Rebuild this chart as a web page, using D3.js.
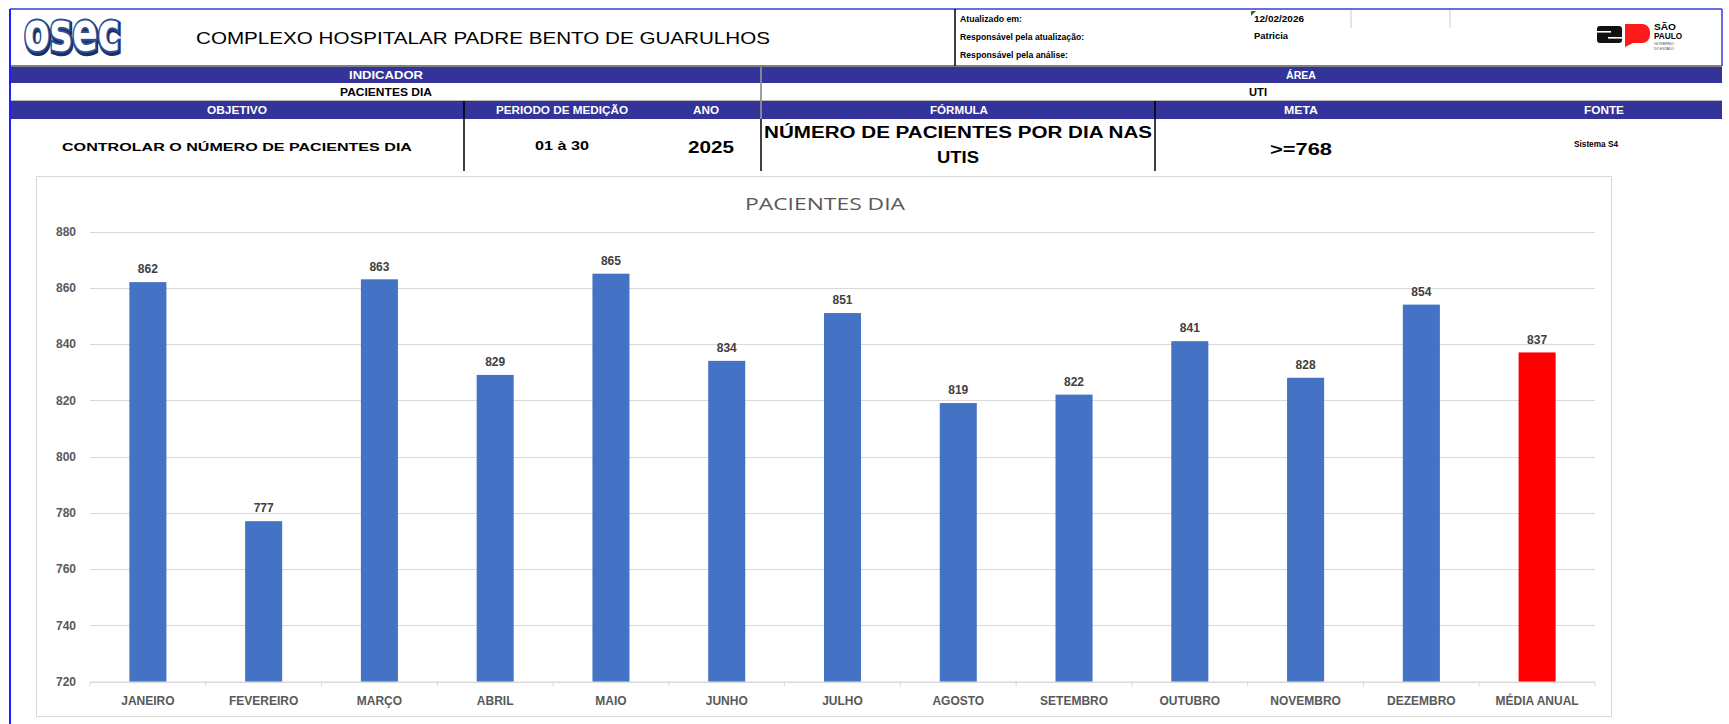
<!DOCTYPE html>
<html lang="pt-BR">
<head>
<meta charset="UTF-8">
<title>Pacientes Dia</title>
<style>
  html, body { margin: 0; padding: 0; background: #fff; overflow: hidden; }
  svg { display: block; font-family: "Liberation Sans", Arial, sans-serif; }
</style>
</head>
<body>
<div id="chart"></div>
<script src="https://cdn.jsdelivr.net/npm/d3@7"></script>
<script>
// dados do gráfico
const meses = ['JANEIRO', 'FEVEREIRO', 'MARÇO', 'ABRIL', 'MAIO', 'JUNHO', 'JULHO',
  'AGOSTO', 'SETEMBRO', 'OUTUBRO', 'NOVEMBRO', 'DEZEMBRO', 'MÉDIA ANUAL']
const pacientes = [862, 777, 863, 829, 865, 834, 851, 819, 822, 841, 828, 854, 837]
const yTicks = [720, 740, 760, 780, 800, 820, 840, 860, 880]
const destaque = 'MÉDIA ANUAL'

const width = 1729
const height = 724
const azul = '#333399'

const svg = d3.select('#chart').append('svg')
  .attr('width', width)
  .attr('height', height)

// ---------- cabeçalho ----------
const head = svg.append('g')

function txt(g, x, y, s, o = {}) {
  const t = g.append('text')
    .attr('x', x).attr('y', y)
    .attr('dy', '0.35em')
    .attr('text-anchor', o.anchor || 'middle')
    .attr('font-size', o.size || 10)
    .attr('font-weight', o.weight || 'bold')
    .attr('fill', o.fill || '#000')
    .text(s)
  if (o.family) t.attr('font-family', o.family)
  if (o.len) t.attr('textLength', o.len).attr('lengthAdjust', 'spacingAndGlyphs')
  return t
}

// faixas azuis
head.append('rect').attr('x', 10).attr('y', 67).attr('width', 1712).attr('height', 16).attr('fill', azul)
head.append('rect').attr('x', 10).attr('y', 101).attr('width', 1712).attr('height', 18).attr('fill', azul)
head.append('line').attr('x1', 10).attr('x2', 1722).attr('y1', 66).attr('y2', 66).attr('stroke', '#000')
head.append('line').attr('x1', 10).attr('x2', 1722).attr('y1', 100.5).attr('y2', 100.5).attr('stroke', '#bbb')

// bordas externas
head.append('line').attr('x1', 10).attr('x2', 1722).attr('y1', 9).attr('y2', 9).attr('stroke', '#3b3bd6').attr('stroke-width', 1.5)
head.append('line').attr('x1', 10).attr('x2', 10).attr('y1', 9).attr('y2', height).attr('stroke', '#2020ff').attr('stroke-width', 2)
head.append('line').attr('x1', 1722).attr('x2', 1722).attr('y1', 9).attr('y2', 66).attr('stroke', '#3b3bd6').attr('stroke-width', 1.5)

// divisórias
head.append('line').attr('x1', 955).attr('x2', 955).attr('y1', 9).attr('y2', 66).attr('stroke', '#000').attr('stroke-width', 1.5)
head.append('line').attr('x1', 1351).attr('x2', 1351).attr('y1', 10).attr('y2', 28).attr('stroke', '#ccc')
head.append('line').attr('x1', 1450).attr('x2', 1450).attr('y1', 10).attr('y2', 28).attr('stroke', '#ccc')
head.append('line').attr('x1', 761).attr('x2', 761).attr('y1', 67).attr('y2', 171).attr('stroke', '#000').attr('stroke-width', 1.5)
head.append('line').attr('x1', 761).attr('x2', 761).attr('y1', 67).attr('y2', 119).attr('stroke', '#fff').attr('stroke-width', 1)
head.append('line').attr('x1', 464).attr('x2', 464).attr('y1', 101).attr('y2', 171).attr('stroke', '#000').attr('stroke-width', 1.5)
head.append('line').attr('x1', 1155).attr('x2', 1155).attr('y1', 101).attr('y2', 171).attr('stroke', '#000').attr('stroke-width', 1.5)

// logo osec (sombra + contorno)
const osec = head.append('g')
  .attr('font-size', 54).attr('font-weight', 'bold')
  .attr('font-family', '"DejaVu Sans", sans-serif')
osec.append('text')
  .attr('x', 25).attr('y', 52)
  .attr('fill', '#1b2f63').attr('stroke', '#1b2f63').attr('stroke-width', 6)
  .attr('textLength', 96).attr('lengthAdjust', 'spacingAndGlyphs')
  .text('osec')
osec.append('text')
  .attr('x', 24).attr('y', 50)
  .attr('fill', '#fff').attr('stroke', '#2d4f98').attr('stroke-width', 4)
  .attr('paint-order', 'stroke')
  .attr('textLength', 96).attr('lengthAdjust', 'spacingAndGlyphs')
  .text('osec')

txt(head, 196, 38, 'COMPLEXO HOSPITALAR PADRE BENTO DE GUARULHOS', { anchor: 'start', size: 17, weight: 'normal', len: 574 })

txt(head, 960, 19, 'Atualizado em:', { anchor: 'start', size: 8.5, len: 62 })
txt(head, 960, 37, 'Responsável pela atualização:', { anchor: 'start', size: 8.5, len: 124 })
txt(head, 960, 55, 'Responsável pela análise:', { anchor: 'start', size: 8.5, len: 108 })
txt(head, 1254, 19, '12/02/2026', { anchor: 'start', size: 8.5, len: 50 })
txt(head, 1254, 36, 'Patricia', { anchor: 'start', size: 8.5, len: 34 })
head.append('path').attr('d', 'M1251,11 L1256,11 L1251,16 Z').attr('fill', '#1a7a1a')

// logo SP
const sp = head.append('g')
sp.append('rect').attr('x', 1597).attr('y', 26).attr('width', 25).attr('height', 17).attr('rx', 3).attr('fill', '#111')
sp.append('rect').attr('x', 1597).attr('y', 31).attr('width', 14).attr('height', 1.6).attr('fill', '#fff')
sp.append('rect').attr('x', 1608).attr('y', 37).attr('width', 14).attr('height', 1.6).attr('fill', '#fff')
sp.append('path').attr('d', 'M1625,24 h17 a8,8 0 0 1 8,8 v3 a8,8 0 0 1 -8,8 h-9 l-8,4 Z').attr('fill', '#ff1a1a')
txt(sp, 1654, 27, 'SÃO', { anchor: 'start', size: 9.5, len: 22 })
txt(sp, 1654, 35.5, 'PAULO', { anchor: 'start', size: 9.5, len: 28 })
txt(sp, 1654, 44, 'GOVERNO', { anchor: 'start', size: 3.5, weight: 'normal', fill: '#444', len: 20 })
txt(sp, 1654, 48.5, 'DO ESTADO', { anchor: 'start', size: 3.5, weight: 'normal', fill: '#444', len: 20 })

// textos das faixas
txt(head, 386, 75, 'INDICADOR', { fill: '#fff', len: 74 })
txt(head, 1301, 75, 'ÁREA', { fill: '#fff', len: 30 })
txt(head, 386, 92, 'PACIENTES DIA', { len: 92 })
txt(head, 1258, 92, 'UTI', { len: 18 })
txt(head, 237, 110, 'OBJETIVO', { fill: '#fff', len: 60 })
txt(head, 562, 110, 'PERIODO DE MEDIÇÃO', { fill: '#fff', len: 132 })
txt(head, 706, 110, 'ANO', { fill: '#fff', len: 26 })
txt(head, 959, 110, 'FÓRMULA', { fill: '#fff', len: 58 })
txt(head, 1301, 110, 'META', { fill: '#fff', len: 34 })
txt(head, 1604, 110, 'FONTE', { fill: '#fff', len: 40 })

txt(head, 237, 147, 'CONTROLAR O NÚMERO DE PACIENTES DIA', { size: 10, len: 350 })
txt(head, 562, 146, '01 à 30', { size: 12, len: 54 })
txt(head, 711, 147, '2025', { size: 17, len: 46 })
txt(head, 958, 132, 'NÚMERO DE PACIENTES POR DIA NAS', { size: 16, len: 388 })
txt(head, 958, 157, 'UTIS', { size: 16, len: 42 })
txt(head, 1301, 149, '>=768', { size: 16, len: 62 })
txt(head, 1596, 144, 'Sistema  S4', { size: 9, len: 44 })

// ---------- gráfico ----------
svg.append('rect')
  .attr('x', 36.5).attr('y', 176.5)
  .attr('width', 1575).attr('height', 540)
  .attr('fill', '#fff').attr('stroke', '#d9d9d9')

svg.append('text')
  .attr('x', 825).attr('y', 204).attr('dy', '0.35em')
  .attr('text-anchor', 'middle')
  .attr('font-size', 17).attr('fill', '#595959')
  .attr('font-family', '"Open Sans", sans-serif')
  .attr('textLength', 160).attr('lengthAdjust', 'spacingAndGlyphs')
  .text('PACIENTES DIA')

const margin = { left: 90, right: 134, top: 231.5, bottom: 681.5 }

const x = d3.scaleBand()
  .domain(meses)
  .range([margin.left, width - margin.right])
  .paddingInner(0.68)
  .paddingOuter(0.34)

const y = d3.scaleLinear()
  .domain([720, 880])
  .range([margin.bottom, margin.top])

// linhas de grade
svg.append('g')
  .selectAll('line')
  .data(yTicks)
  .join('line')
  .attr('x1', margin.left).attr('x2', width - margin.right)
  .attr('y1', d => Math.round(y(d)) + 0.5).attr('y2', d => Math.round(y(d)) + 0.5)
  .attr('stroke', '#d9d9d9').attr('stroke-width', 1.2)

// eixo y
const yAxis = svg.append('g')
  .attr('transform', `translate(${margin.left - 14},0)`)
  .call(d3.axisLeft(y).tickValues(yTicks).tickSize(0).tickPadding(0))
yAxis.select('.domain').remove()
yAxis.selectAll('text')
  .attr('font-size', 12).attr('font-weight', 'bold').attr('fill', '#595959')
  .attr('font-family', '"Liberation Sans Narrow", "Liberation Sans", sans-serif')

// eixo x
const xAxis = svg.append('g')
  .attr('transform', `translate(0,${margin.bottom})`)
  .call(d3.axisBottom(x).tickSize(0).tickPadding(15))
xAxis.select('.domain').attr('stroke', '#d9d9d9')
xAxis.selectAll('text')
  .attr('font-size', 12).attr('font-weight', 'bold').attr('fill', '#595959')
  .attr('font-family', '"Liberation Sans Narrow", "Liberation Sans", sans-serif')

// marcas entre categorias
svg.append('g')
  .selectAll('line')
  .data(d3.range(meses.length + 1))
  .join('line')
  .attr('x1', i => margin.left + i * (width - margin.right - margin.left) / meses.length)
  .attr('x2', i => margin.left + i * (width - margin.right - margin.left) / meses.length)
  .attr('y1', margin.bottom).attr('y2', margin.bottom + 5)
  .attr('stroke', '#d9d9d9')

// barras
const dados = meses.map((m, i) => ({ mes: m, valor: pacientes[i] }))

svg.append('g')
  .selectAll('rect')
  .data(dados)
  .join('rect')
  .attr('x', d => x(d.mes))
  .attr('width', x.bandwidth())
  .attr('y', d => y(d.valor))
  .attr('height', d => y(720) - y(d.valor))
  .attr('fill', d => d.mes === destaque ? '#ff0000' : '#4472c4')

// rótulos
svg.append('g')
  .selectAll('text')
  .data(dados)
  .join('text')
  .attr('x', d => x(d.mes) + x.bandwidth() / 2)
  .attr('y', d => y(d.valor) - 13)
  .attr('dy', '0.35em')
  .attr('text-anchor', 'middle')
  .attr('font-size', 12).attr('font-weight', 'bold').attr('fill', '#404040')
  .attr('font-family', '"Liberation Sans Narrow", "Liberation Sans", sans-serif')
  .text(d => d.valor)
</script>
</body>
</html>
